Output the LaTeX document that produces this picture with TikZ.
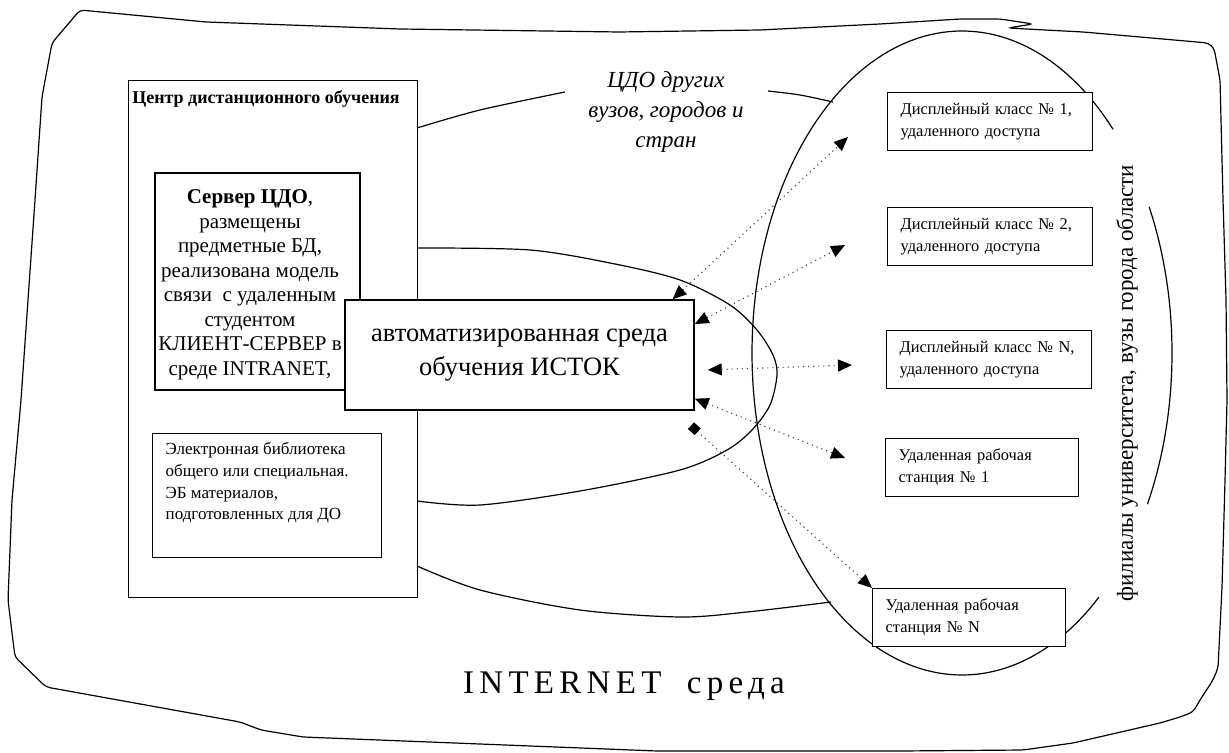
\documentclass[tikz,border=0pt]{standalone}
\usepackage{fontspec}
\setmainfont{Liberation Serif}
\newfontfamily\spacedfont[LetterSpace=16]{Liberation Serif}
\usetikzlibrary{arrows.meta}

\begin{document}
\begin{tikzpicture}[x=0.5pt,y=-0.5pt,
  >={Triangle[length=7pt,width=6pt,color=black]},
  box/.style={draw,line width=0.7pt,inner sep=0pt},
  rbox/.style={draw,fill=white,line width=0.7pt,anchor=north west,align=left,inner xsep=6.5pt,inner ysep=0pt,minimum height=29pt,font=\fontsize{8.2}{11}\selectfont},
  arcline/.style={line width=0.6pt},
  link/.style={dotted,line width=0.55pt,black!75}]
  \useasboundingbox (0,0) rectangle (1229,753);
  \draw[arcline,rounded corners=2pt] (80,10) -- (206,22) -- (400,29) -- (619,32) -- (760,30) -- (880,24) -- (960,19) -- (1000,19) -- (1033,24) -- (1008,28) -- (1045,30) -- (1083,32) -- (1140,37) -- (1208,43) -- (1214,48) -- (1220,80) -- (1223,200) -- (1226,300) -- (1227,400) -- (1225,480) -- (1222,587) -- (1218,668) -- (1213,680) -- (1200,700) -- (1193,712) -- (1180,717) -- (1160,723) -- (1073,743) -- (1023,750) -- (900,751) -- (657,751) -- (303,737) -- (261,730) -- (240,722) -- (46,687) -- (15,657) -- (8,600) -- (12,500) -- (21,400) -- (35,200) -- (42,97) -- (52,43) -- cycle;
  \draw[arcline] plot[domain=44:310.7,samples=120,smooth] ({962+210*cos(\x)},{353-322*sin(\x)});
  \draw[arcline] plot[domain=-28:27,samples=30,smooth] ({962+210*cos(\x)},{353-322*sin(\x)});
  \draw[arcline] plot[smooth] coordinates {(417,128) (480,110) (565,92)};
  \draw[arcline] plot[smooth] coordinates {(768,91) (800,95) (833,102)};
  \draw[arcline] plot[smooth] coordinates {(417,566) (480,590) (580,610) (680,617) (747,612) (831,602)};
  \draw[arcline] plot[smooth] coordinates {(417,248) (530,250) (615,264) (680,280) (730,305) (757,330) (773,355) (777,375) (770,405) (752,430) (727,450) (680,470) (580,491) (480,505) (417,501)};
  \node[box,anchor=north west,minimum width=144.5pt,minimum height=258.5pt] (cdo) at (128,80) {};
  \node[font=\bfseries\fontsize{9}{11}\selectfont] (cdotitle) at (266,99) {Центр дистанционного обучения};
  \node[box,minimum width=102.5pt,minimum height=108.5pt] (server) at (257.5,281.5) {};
  \node[align=center,font=\fontsize{10.5}{12.25}\selectfont] (servertext) at (250,285) {\textbf{Сервер ЦДО},\\ размещены\\ предметные БД,\\ реализована модель\\ связи~ с удаленным\\ студентом\\ КЛИЕНТ-СЕРВЕР в\\ среде INTRANET,};
  \node[box,anchor=north west,inner xsep=6.5pt,inner ysep=4.5pt,font=\fontsize{8.5}{10.8}\selectfont] (lib) at (152,433) {\parbox[c][53pt][t]{101.5pt}{Электронная библиотека\\ общего или специальная.\\ ЭБ материалов,\\ подготовленных для ДО}};
  \node[box,fill=white,align=center,minimum width=174.5pt,minimum height=55pt,font=\fontsize{13.25}{17}\selectfont] (istok) at (519.5,355) {автоматизированная среда\\ обучения ИСТОК};
  \node[align=center,font=\itshape\fontsize{11.5}{15}\selectfont] (other) at (666,112) {ЦДО других\\ вузов, городов и\\ стран};
  \node[rbox,text width=89.5pt] (disp1) at (887,92) {Дисплейный класс № 1,\\ удаленного доступа};
  \node[rbox,text width=89.5pt] (disp2) at (887,207) {Дисплейный класс № 2,\\ удаленного доступа};
  \node[rbox,text width=89.5pt] (dispn) at (886,330) {Дисплейный класс № N,\\ удаленного доступа};
  \node[rbox,text width=83.5pt] (ws1) at (885,438) {Удаленная рабочая\\ станция № 1};
  \node[rbox,text width=83.5pt] (wsn) at (872,588) {Удаленная рабочая\\ станция № N};
  \node[rotate=90,font=\fontsize{11.5}{14}\selectfont] (branches) at (1127,383) {филиалы университета, вузы города области};
  \node[font=\spacedfont\fontsize{16.5}{20}\selectfont] (inet) at (624,686) {INTERNET \hspace{6pt}среда};
  \coordinate (e1) at (848,137);
  \coordinate (e2) at (845,245);
  \coordinate (e3) at (852,365);
  \coordinate (e4) at (845,458);
  \coordinate (s5) at ([yshift=-7.5pt]istok.-18.7);
  \draw[link,<->] (istok.20) -- (e1);
  \draw[link,<->] (istok.10) -- (e2);
  \draw[link,<->,shorten <=6.5pt] (istok.-5) -- (e3);
  \draw[link,<->] (istok.-14.5) -- (e4);
  \draw[link,{Square[length=4.5pt,width=4.5pt,color=black]}-{Triangle[length=7pt,width=6pt,color=black]}] (s5) -- (wsn.north west);
\end{tikzpicture}
\end{document}
